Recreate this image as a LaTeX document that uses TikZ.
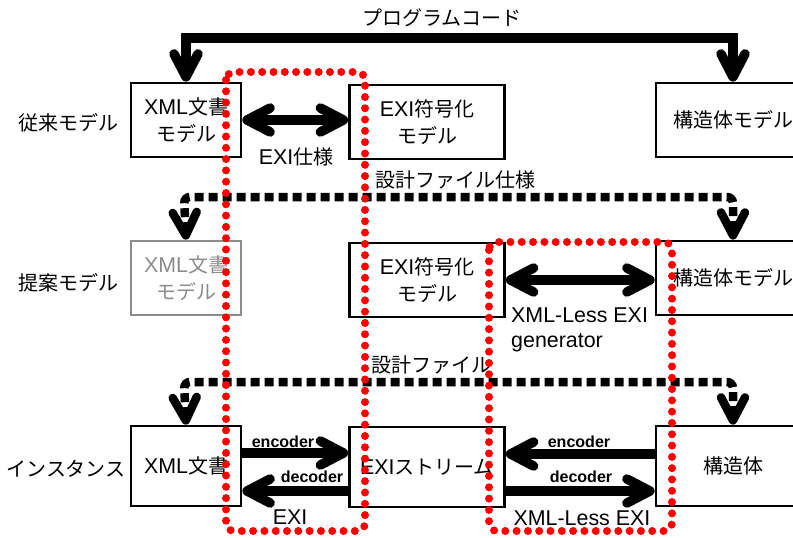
\documentclass[tikz,border=0pt]{standalone}
\usepackage{fontspec}
\setmainfont{Liberation Sans}[Scale=1.07]
\newfontfamily\jpf{Noto Sans CJK JP}
\usetikzlibrary{arrows.meta,positioning}

\tikzset{
	barb/.tip={Straight Barb[length=23pt,width=24pt,round]},
	box/.style={draw, line width=2.7pt, minimum height=74pt, align=center, inner sep=2pt, font=\fontsize{20}{27}\selectfont},
	ghost/.style={box, draw=black!45, text=black!45},
	lbl/.style={font=\fontsize{20}{25}\selectfont, inner sep=0pt},
	small/.style={font=\fontsize{15}{18}\selectfont\bfseries, inner sep=0pt},
	fat/.style={line width=9.5pt},
	dots/.style={line width=8.5pt, dash pattern=on 9pt off 5pt, rounded corners=6pt},
	redbox/.style={red, line width=8pt, line cap=round, dash pattern=on 0pt off 11.3pt, rounded corners=8pt}
}

\begin{document}
\begin{tikzpicture}[x=1pt, y=-1pt]
	\useasboundingbox (0,0) rectangle (793,538);

	%ROWS
	\node[lbl] (rowA) at (69,123) {{\jpf 従来モデル}};
	\node[lbl] (rowB) at (69,283) {{\jpf 提案モデル}};
	\node[lbl] (rowC) at (66,469) {{\jpf インスタンス}};

	\node[box, minimum width=110pt] (xmlM) at (186,120) {XML{\jpf 文書}\\{\jpf モデル}};
	\node[box, minimum width=155pt] (exiM) at (427,122) {EXI{\jpf 符号化}\\{\jpf モデル}};
	\node[box, minimum width=154pt] (strM) at (733,120) {{\jpf 構造体モデル}};

	\node[ghost, minimum width=110pt] (xmlP) at (186,278) {XML{\jpf 文書}\\{\jpf モデル}};
	\node[box, minimum width=155pt] (exiP) at (427,280) {EXI{\jpf 符号化}\\{\jpf モデル}};
	\node[box, minimum width=154pt] (strP) at (733,278) {{\jpf 構造体モデル}};

	\node[box, minimum width=110pt, minimum height=80pt] (xmlD) at (186,466) {XML{\jpf 文書}};
	\node[box, minimum width=155pt, minimum height=80pt] (exiS) at (427,467) {EXI{\jpf ストリーム}};
	\node[box, minimum width=154pt, minimum height=80pt] (strI) at (733,466) {{\jpf 構造体}};

	%LINES
	\coordinate (progL) at (186,38);
	\draw[fat, barb-barb] (xmlM.north) -- (progL) -| (strM.north);
	\node[lbl] (prog) at (442,18) {{\jpf プログラムコード}};

	\draw[fat, barb-barb] (xmlM.east) -- (xmlM.east -| exiM.west);
	\node[lbl] (spec) at (296,157) {EXI{\jpf 仕様}};

	\coordinate (specL) at (184,197);
	\draw[dots, barb-barb] (xmlP.north) -- (specL) -| (strP.north);
	\node[lbl] (specF) at (455,180) {{\jpf 設計ファイル仕様}};

	\draw[fat, barb-barb] (exiP.east) -- (exiP.east -| strP.west);
	\node[lbl, anchor=north west, align=left] (gen) at (511,308) {XML-Less EXI\\generator};

	\coordinate (fileL) at (184,382);
	\draw[dots, barb-barb] (xmlD.north) -- (fileL) -| (strI.north);
	\node[lbl] (file) at (431,365) {{\jpf 設計ファイル}};

	\draw[fat, -barb] ([yshift=13pt]xmlD.east) -- ([yshift=13pt]xmlD.east -| exiS.west);
	\draw[fat, barb-] ([yshift=-25pt]xmlD.east) -- ([yshift=-25pt]xmlD.east -| exiS.west);
	\node[small] (encL) at (283,442) {encoder};
	\node[small] (decL) at (312,477) {decoder};
	\node[lbl] (exi) at (290,517) {EXI};

	\draw[fat, barb-] ([yshift=13pt]exiS.east) -- ([yshift=13pt]exiS.east -| strI.west);
	\draw[fat, -barb] ([yshift=-24pt]exiS.east) -- ([yshift=-24pt]exiS.east -| strI.west);
	\node[small] (encR) at (579,442) {encoder};
	\node[small] (decR) at (581,477) {decoder};
	\node[lbl] (xle) at (582,518) {XML-Less EXI};

	%GROUPS
	\draw[redbox] (226,72) rectangle (365,531);
	\draw[redbox] (489,242) rectangle (672,531);
\end{tikzpicture}
\end{document}
